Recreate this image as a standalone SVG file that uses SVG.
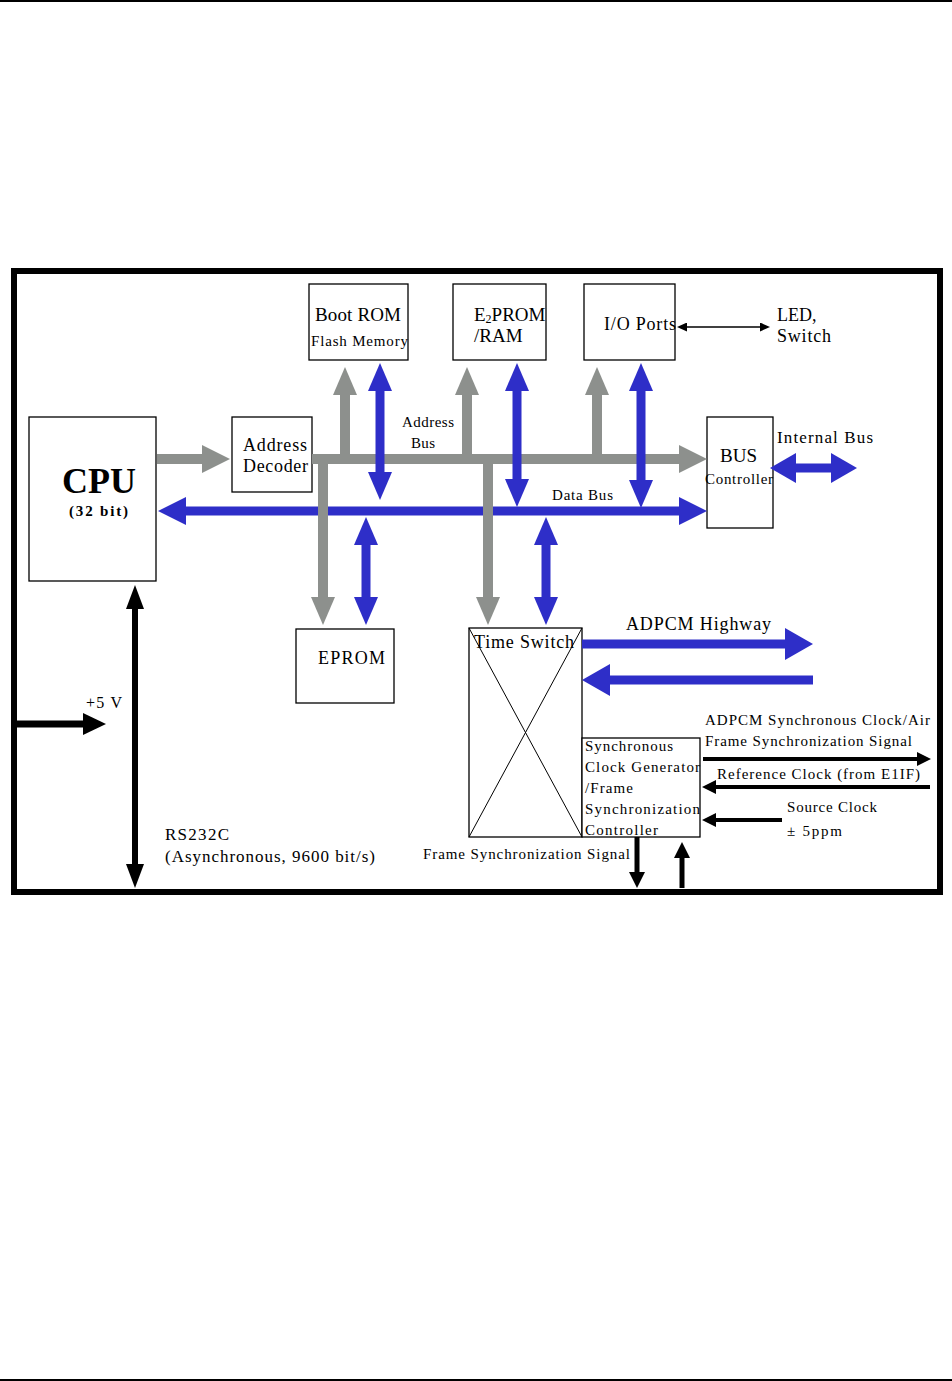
<svg xmlns="http://www.w3.org/2000/svg" width="952" height="1381" viewBox="0 0 952 1381">
<defs>
<style>
text{font-family:"Liberation Serif","Times New Roman",serif;fill:#000}
.box{fill:#fff;stroke:#000;stroke-width:1.3}
.g{stroke:#8d908d;stroke-width:10;fill:none}
.b{stroke:#2e2ec8;stroke-width:9;fill:none}
.k{stroke:#000;fill:none}
</style>
<marker id="gh" markerUnits="userSpaceOnUse" markerWidth="28" markerHeight="28" viewBox="0 0 28 28" refX="0" refY="14" orient="auto"><path d="M0,0L28,14L0,28z" fill="#8d908d"/></marker>
<marker id="ghv" markerUnits="userSpaceOnUse" markerWidth="28" markerHeight="24" viewBox="0 0 28 24" refX="0" refY="12" orient="auto"><path d="M0,0L28,12L0,24z" fill="#8d908d"/></marker>
<marker id="bh" markerUnits="userSpaceOnUse" markerWidth="28" markerHeight="28" viewBox="0 0 28 28" refX="0" refY="14" orient="auto-start-reverse"><path d="M0,0L28,14L0,28z" fill="#2e2ec8"/></marker>
<marker id="bhv" markerUnits="userSpaceOnUse" markerWidth="28" markerHeight="24" viewBox="0 0 28 24" refX="0" refY="12" orient="auto-start-reverse"><path d="M0,0L28,12L0,24z" fill="#2e2ec8"/></marker>
<marker id="bhi" markerUnits="userSpaceOnUse" markerWidth="26" markerHeight="30" viewBox="0 0 26 30" refX="0" refY="15" orient="auto-start-reverse"><path d="M0,0L26,15L0,30z" fill="#2e2ec8"/></marker>
<marker id="bha" markerUnits="userSpaceOnUse" markerWidth="28" markerHeight="32" viewBox="0 0 28 32" refX="0" refY="16" orient="auto"><path d="M0,0L28,16L0,32z" fill="#2e2ec8"/></marker>
<marker id="kh" markerUnits="userSpaceOnUse" markerWidth="24" markerHeight="18" viewBox="0 0 24 18" refX="0" refY="9" orient="auto-start-reverse"><path d="M0,0L24,9L0,18z" fill="#000"/></marker>
<marker id="kh5" markerUnits="userSpaceOnUse" markerWidth="23" markerHeight="22" viewBox="0 0 23 22" refX="0" refY="11" orient="auto"><path d="M0,0L23,11L0,22z" fill="#000"/></marker>
<marker id="ks" markerUnits="userSpaceOnUse" markerWidth="14" markerHeight="14" viewBox="0 0 14 14" refX="0" refY="7" orient="auto"><path d="M0,0L14,7L0,14z" fill="#000"/></marker>
<marker id="kb" markerUnits="userSpaceOnUse" markerWidth="16" markerHeight="16" viewBox="0 0 16 16" refX="0" refY="8" orient="auto"><path d="M0,0L16,8L0,16z" fill="#000"/></marker>
<marker id="kt" markerUnits="userSpaceOnUse" markerWidth="10" markerHeight="9" viewBox="0 0 10 9" refX="0" refY="4.5" orient="auto-start-reverse"><path d="M0,0L10,4.5L0,9z" fill="#000"/></marker>
</defs>
<rect width="952" height="1381" fill="#fff"/>
<line x1="0" y1="1" x2="952" y2="1" stroke="#000" stroke-width="2"/>
<line x1="0" y1="1380" x2="952" y2="1380" stroke="#000" stroke-width="2"/>
<rect x="14" y="271" width="926" height="621" fill="none" stroke="#000" stroke-width="6"/>

<g id="nodes">
<g id="cpu"><rect class="box" x="29" y="417" width="127" height="164"/>
<text x="62" y="493" font-size="36" font-weight="bold" textLength="74" lengthAdjust="spacingAndGlyphs">CPU</text>
<text x="69" y="516" font-size="15" font-weight="bold" textLength="59" lengthAdjust="spacing">(32 bit)</text></g>
<g id="addrdec"><rect class="box" x="232" y="417" width="80" height="75"/>
<text x="243" y="451" font-size="18" textLength="64" lengthAdjust="spacing">Address</text><text x="243" y="472" font-size="18" textLength="65" lengthAdjust="spacing">Decoder</text></g>
<g id="bootrom"><rect class="box" x="309" y="284" width="99" height="76"/>
<text x="315" y="321" font-size="19" textLength="86" lengthAdjust="spacing">Boot ROM</text><text x="311" y="346" font-size="15" textLength="97" lengthAdjust="spacing">Flash Memory</text></g>
<g id="e2prom"><rect class="box" x="453" y="284" width="93" height="76"/>
<text x="474" y="321" font-size="19">E<tspan font-size="12" dy="2">2</tspan><tspan dy="-2">PROM</tspan></text><text x="474" y="342" font-size="19">/RAM</text></g>
<g id="io"><rect class="box" x="584" y="284" width="91" height="76"/>
<text x="604" y="330" font-size="18" textLength="72" lengthAdjust="spacing">I/O Ports</text></g>
<g id="busctl"><rect class="box" x="707" y="417" width="66" height="111"/>
<text x="720" y="462" font-size="19" textLength="37" lengthAdjust="spacing">BUS</text><text x="705" y="484" font-size="15" textLength="68" lengthAdjust="spacing">Controller</text></g>
<g id="eprom"><rect class="box" x="296" y="629" width="98" height="74"/>
<text x="318" y="664" font-size="18" textLength="67" lengthAdjust="spacing">EPROM</text></g>
<g id="timeswitch"><rect class="box" x="469" y="628" width="113" height="209"/>
<line x1="469" y1="628" x2="582" y2="837" stroke="#000" stroke-width="1"/><line x1="582" y1="628" x2="469" y2="837" stroke="#000" stroke-width="1"/>
<text x="474" y="648" font-size="18" textLength="100" lengthAdjust="spacing">Time Switch</text></g>
<g id="syncclk"><rect class="box" x="582" y="738" width="118" height="99"/>
<text x="585" y="751" font-size="15" textLength="88" lengthAdjust="spacing">Synchronous</text><text x="585" y="772" font-size="15" textLength="115" lengthAdjust="spacing">Clock Generator</text><text x="585" y="793" font-size="15" textLength="48" lengthAdjust="spacing">/Frame</text><text x="585" y="814" font-size="15" textLength="115" lengthAdjust="spacing">Synchronization</text><text x="585" y="835" font-size="15" textLength="73" lengthAdjust="spacing">Controller</text></g>
</g>

<g id="connectors">
<line class="g" x1="157" y1="459" x2="202" y2="459" marker-end="url(#gh)"/>
<line class="g" x1="312" y1="459" x2="679" y2="459" marker-end="url(#gh)"/>
<line class="g" x1="345" y1="454" x2="345" y2="395" marker-end="url(#ghv)"/>
<line class="g" x1="467" y1="454" x2="467" y2="395" marker-end="url(#ghv)"/>
<line class="g" x1="597" y1="454" x2="597" y2="395" marker-end="url(#ghv)"/>
<line class="b" x1="186" y1="511" x2="679" y2="511" marker-start="url(#bh)" marker-end="url(#bh)"/>
<line class="g" x1="323" y1="455" x2="323" y2="597" marker-end="url(#ghv)"/>
<line class="g" x1="488" y1="455" x2="488" y2="597" marker-end="url(#ghv)"/>
<line class="b" x1="380" y1="391" x2="380" y2="472" marker-start="url(#bhv)" marker-end="url(#bhv)"/>
<line class="b" x1="517" y1="391" x2="517" y2="479" marker-start="url(#bhv)" marker-end="url(#bhv)"/>
<line class="b" x1="641" y1="391" x2="641" y2="480" marker-start="url(#bhv)" marker-end="url(#bhv)"/>
<line class="b" x1="366" y1="545" x2="366" y2="597" marker-start="url(#bhv)" marker-end="url(#bhv)"/>
<line class="b" x1="546" y1="545" x2="546" y2="597" marker-start="url(#bhv)" marker-end="url(#bhv)"/>
<line class="b" x1="796" y1="468" x2="831" y2="468" marker-start="url(#bhi)" marker-end="url(#bhi)"/>
<line class="b" x1="582" y1="644" x2="785" y2="644" stroke-width="11" marker-end="url(#bha)"/>
<line class="b" x1="813" y1="680" x2="610" y2="680" stroke-width="11" marker-end="url(#bha)"/>
<line class="k" x1="687" y1="327" x2="760" y2="327" stroke-width="1.5" marker-start="url(#kt)" marker-end="url(#kt)"/>
<line class="k" x1="135" y1="609" x2="135" y2="864" stroke-width="6" marker-start="url(#kh)" marker-end="url(#kh)"/>
<line class="k" x1="14" y1="724" x2="83" y2="724" stroke-width="7" marker-end="url(#kh5)"/>
<line class="k" x1="703" y1="759" x2="917" y2="759" stroke-width="4" marker-end="url(#ks)"/>
<line class="k" x1="930" y1="787" x2="716" y2="787" stroke-width="4" marker-end="url(#ks)"/>
<line class="k" x1="782" y1="820" x2="716" y2="820" stroke-width="4" marker-end="url(#ks)"/>
<line class="k" x1="637" y1="837" x2="637" y2="872" stroke-width="5" marker-end="url(#kb)"/>
<line class="k" x1="682" y1="888" x2="682" y2="858" stroke-width="5" marker-end="url(#kb)"/>
</g>

<g id="labels">
<text x="777" y="321" font-size="18">LED,</text><text x="777" y="342" font-size="18" textLength="54" lengthAdjust="spacing">Switch</text>
<text x="402" y="427" font-size="15" textLength="52" lengthAdjust="spacing">Address</text><text x="411" y="448" font-size="15" textLength="24" lengthAdjust="spacing">Bus</text>
<text x="777" y="443" font-size="17" textLength="96" lengthAdjust="spacing">Internal Bus</text>
<text x="552" y="500" font-size="15" textLength="61" lengthAdjust="spacing">Data Bus</text>
<text x="626" y="630" font-size="18" textLength="145" lengthAdjust="spacing">ADPCM Highway</text>
<text x="705" y="725" font-size="15" textLength="225" lengthAdjust="spacing">ADPCM Synchronous Clock/Air</text>
<text x="705" y="746" font-size="15" textLength="207" lengthAdjust="spacing">Frame Synchronization Signal</text>
<text x="717" y="779" font-size="15" textLength="203" lengthAdjust="spacing">Reference Clock (from E1IF)</text>
<text x="787" y="812" font-size="15" textLength="90" lengthAdjust="spacing">Source Clock</text>
<text x="787" y="836" font-size="15" textLength="55" lengthAdjust="spacing">± 5ppm</text>
<text x="423" y="859" font-size="15" textLength="207" lengthAdjust="spacing">Frame Synchronization Signal</text>
<text x="86" y="708" font-size="16" textLength="36" lengthAdjust="spacing">+5 V</text>
<text x="165" y="840" font-size="17" textLength="64" lengthAdjust="spacing">RS232C</text>
<text x="165" y="862" font-size="17" textLength="210" lengthAdjust="spacing">(Asynchronous, 9600 bit/s)</text>
</g>
</svg>
